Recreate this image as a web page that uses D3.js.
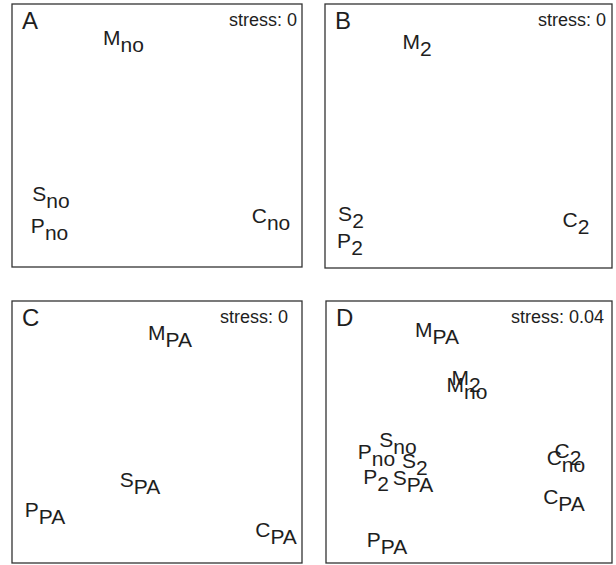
<!DOCTYPE html>
<html>
<head>
<meta charset="utf-8">
<script src="https://cdn.jsdelivr.net/npm/d3@7"></script>
<style>
  body { margin: 0; background: #fff; }
  svg { display: block; }
  text { font-family: "Liberation Sans", Arial, Helvetica, sans-serif; fill: #1e1e1e; }
</style>
</head>
<body>
<div id="chart"></div>
<script>
// panel letters and stress values
const panelNames = ["A", "B", "C", "D"];
const stressValues = ["0", "0", "0", "0.04"];

// MDS configurations (arbitrary units, each axis about -1..1)
const panelA = [
  { main: "M", sub: "no", x: -0.231, y: 0.711 },
  { main: "S", sub: "no", x: -0.731, y: -0.479 },
  { main: "P", sub: "no", x: -0.741, y: -0.719 },
  { main: "C", sub: "no", x: 0.786, y: -0.643 }
];
const panelB = [
  { main: "M", sub: "2", x: -0.359, y: 0.682 },
  { main: "S", sub: "2", x: -0.819, y: -0.619 },
  { main: "P", sub: "2", x: -0.826, y: -0.828 },
  { main: "C", sub: "2", x: 0.749, y: -0.664 }
];
const panelC = [
  { main: "M", sub: "PA", x: 0.090, y: 0.725 },
  { main: "S", sub: "PA", x: -0.117, y: -0.395 },
  { main: "P", sub: "PA", x: -0.772, y: -0.624 },
  { main: "C", sub: "PA", x: 0.821, y: -0.776 }
];
const panelD = [
  { main: "M", sub: "PA", x: -0.224, y: 0.746 },
  { main: "M", sub: "2", x: -0.021, y: 0.382 },
  { main: "M", sub: "no", x: -0.014, y: 0.328 },
  { main: "S", sub: "no", x: -0.497, y: -0.089 },
  { main: "P", sub: "no", x: -0.647, y: -0.183 },
  { main: "S", sub: "2", x: -0.378, y: -0.254 },
  { main: "P", sub: "2", x: -0.650, y: -0.374 },
  { main: "S", sub: "PA", x: -0.392, y: -0.382 },
  { main: "C", sub: "2", x: 0.692, y: -0.178 },
  { main: "C", sub: "no", x: 0.678, y: -0.229 },
  { main: "C", sub: "PA", x: 0.664, y: -0.527 },
  { main: "P", sub: "PA", x: -0.573, y: -0.853 }
];
const panelPoints = [panelA, panelB, panelC, panelD];

// page layout (pixel boxes of the four frames)
const width = 616, height = 565;
const boxes = [
  { x0: 12, y0: 4, x1: 302, y1: 267, stressPad: 5 },
  { x0: 325, y0: 4, x1: 612, y1: 268, stressPad: 6 },
  { x0: 12, y0: 301, x1: 302, y1: 563, stressPad: 14 },
  { x0: 326, y0: 301, x1: 612, y1: 563, stressPad: 8 }
];

const svg = d3.select("#chart")
  .append("svg")
  .attr("width", width)
  .attr("height", height);

boxes.forEach((b, i) => {
  const g = svg.append("g");

  const x = d3.scaleLinear().domain([-1, 1]).range([b.x0, b.x1]);
  const y = d3.scaleLinear().domain([-1, 1]).range([b.y1, b.y0]);

  g.append("rect")
    .attr("x", b.x0)
    .attr("y", b.y0)
    .attr("width", b.x1 - b.x0)
    .attr("height", b.y1 - b.y0)
    .style("fill", "none")
    .style("stroke", "#333")
    .style("stroke-width", 1.3);

  // panel letter
  g.append("text")
    .attr("x", b.x0 + 10)
    .attr("y", b.y0 + 25)
    .style("font-size", "24px")
    .text(panelNames[i]);

  // stress
  g.append("text")
    .attr("x", b.x1 - b.stressPad)
    .attr("y", b.y0 + 22)
    .attr("text-anchor", "end")
    .style("font-size", "18px")
    .text("stress: " + stressValues[i]);

  // labels with subscripts, centred on the point
  const labels = g.selectAll("text.lab")
    .data(panelPoints[i])
    .join("text")
    .attr("class", "lab")
    .attr("x", d => x(d.x))
    .attr("y", d => y(d.y) + 3)
    .attr("text-anchor", "middle")
    .style("font-size", "21px");

  labels.append("tspan").text(d => d.main);
  labels.append("tspan")
    .attr("dy", 7)
    .text(d => d.sub);
});
</script>
</body>
</html>
